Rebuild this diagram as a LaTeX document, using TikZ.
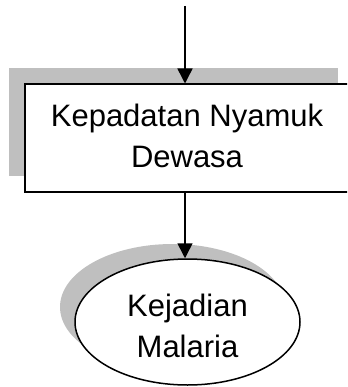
\documentclass[tikz,border=0pt]{standalone}
\usepackage{fontspec}
\setmainfont{Liberation Sans}
\usetikzlibrary{shapes.geometric,shadows,arrows.meta}
\begin{document}
\begin{tikzpicture}[x=1pt,y=-1pt,
  every node/.style={font=\fontsize{31}{41}\selectfont, align=center},
  shadowgray/.style={drop shadow={shadow xshift=-16pt, shadow yshift=16pt, fill=black!25, opacity=1}},
  boxnode/.style={draw, line width=1.5pt, fill=white, rectangle, inner sep=0pt,
    minimum width=329pt, minimum height=107.5pt, shadowgray},
  ellnode/.style={draw, line width=1.5pt, fill=white, ellipse, inner sep=0pt,
    minimum width=225pt, minimum height=126pt,
    drop shadow={shadow xshift=-15pt, shadow yshift=15pt, fill=black!25, opacity=1}},
  arr/.style={line width=1.5pt, -{Triangle[width=15pt,length=15pt]}}]
\useasboundingbox (0,0) rectangle (347,387);
\clip (0,0) rectangle (347,387);
\coordinate (top) at (185,6);
\node[boxnode] (box) at (189.5,138) {};
\node (boxtext) at (187,136) {Kepadatan Nyamuk\\Dewasa};
\node[ellnode] (ell) at (187.5,322) {};
\node (elltext) at (187.5,326) {Kejadian\\Malaria};
\draw[arr] (top) -- (top |- box.north);
\draw[arr] (top |- box.south) -- (top |- ell.north);
\end{tikzpicture}
\end{document}
